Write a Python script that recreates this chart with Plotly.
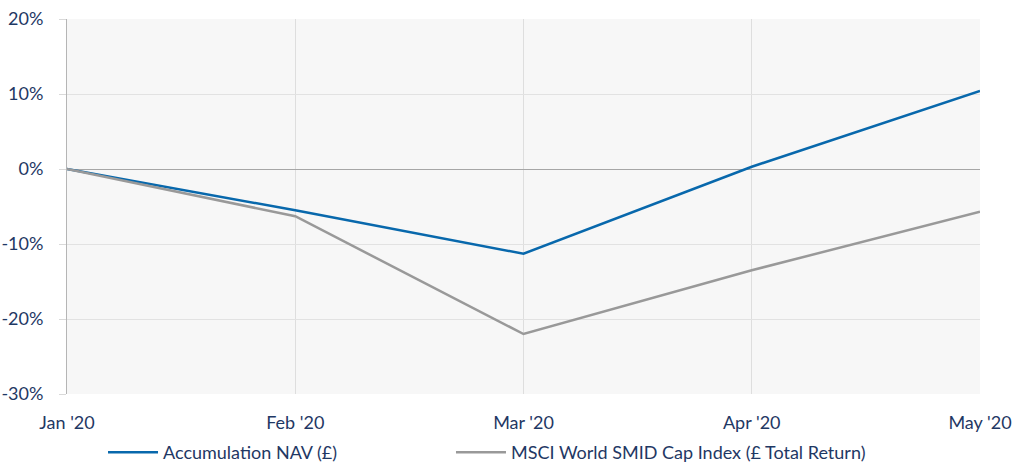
import plotly.graph_objects as go

months = ["Jan '20", "Feb '20", "Mar '20", "Apr '20", "May '20"]
nav = [0.0, -5.5, -11.3, 0.3, 10.4]
msci = [0.0, -6.3, -22.0, -13.5, -5.7]
y_ticks = [-30, -20, -10, 0, 10, 20]
y_labels = ["-30%", "-20%", "-10%", "0%", "10%", "20%"]

font_col = "#1f3864"
fig = go.Figure()
fig.add_trace(go.Scatter(x=months, y=nav, mode="lines", name="Accumulation NAV (£)",
                         line=dict(color="#0868ac", width=2.5), legend="legend"))
fig.add_trace(go.Scatter(x=months, y=msci, mode="lines", name="MSCI World SMID Cap Index (£ Total Return)",
                         line=dict(color="#999999", width=2.5), legend="legend2"))

leg_common = dict(orientation="h", xref="container", yref="container", xanchor="left",
                  y=0.027, yanchor="middle", font=dict(size=18, color=font_col), itemwidth=50,
                  bgcolor="rgba(0,0,0,0)")

fig.update_layout(
    width=1013, height=465,
    margin=dict(l=67, r=33, t=19, b=71, autoexpand=False),
    paper_bgcolor="white", plot_bgcolor="#f7f7f7",
    font=dict(family="Lato, 'Open Sans', sans-serif", size=18, color=font_col),
    showlegend=True,
    legend=dict(x=0.1017, **leg_common),
    legend2=dict(x=0.4452, **leg_common),
    xaxis=dict(type="category", range=[0, 4], showgrid=True, gridcolor="#dedede",
               showline=False, zeroline=False, ticks="", ticklabelstandoff=16, automargin=False,
               tickfont=dict(size=18, color=font_col)),
    yaxis=dict(range=[-30, 20], tickvals=y_ticks, ticktext=y_labels, showgrid=True,
               gridcolor="#e2e2e2", zeroline=True, zerolinecolor="#a6a6a6", zerolinewidth=1,
               showline=True, linecolor="#b5b5b5", linewidth=1, automargin=False,
               ticks="outside", ticklen=7, tickcolor="#d9d9d9", ticklabelstandoff=12,
               tickfont=dict(size=18, color=font_col)),
)
fig.write_html("out.html", config={"displayModeBar": False},
               post_script="document.body.style.margin='0';document.body.style.overflow='hidden';")
